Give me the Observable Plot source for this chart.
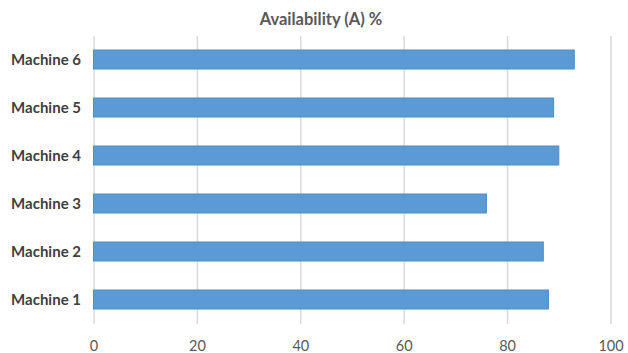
<!DOCTYPE html>
<html>
<head>
<meta charset="utf-8">
<script src="https://cdn.jsdelivr.net/npm/d3@7"></script>
<script src="https://cdn.jsdelivr.net/npm/@observablehq/plot@0.6"></script>
<style>
  html, body { margin: 0; padding: 0; background: #fff; }
  #chart { width: 628px; height: 353px; position: relative; font-family: Lato, "Open Sans", sans-serif; }
  #title { height: 30px; line-height: 38px; text-align: center; font-size: 16.5px; font-weight: bold; color: #595959; padding-left: 14px; box-sizing: border-box; }
  svg { display: block; }
</style>
</head>
<body>
<div id="chart">
  <div id="title">Availability (A) %</div>
</div>
<script>
// Availability per machine, in percent
const machines = ["Machine 1", "Machine 2", "Machine 3", "Machine 4", "Machine 5", "Machine 6"];
const availability = [88, 87, 76, 90, 89, 93];
const xTicks = [0, 20, 40, 60, 80, 100];

const rows = machines.map((m, i) => ({machine: m, value: availability[i]}));

const plot = Plot.plot({
  width: 628,
  height: 323,
  marginLeft: 93.5,
  marginRight: 17.5,
  marginTop: 6,
  marginBottom: 29,
  style: {fontFamily: "Lato, 'Open Sans', sans-serif", fontSize: "14px", background: "#fff"},
  x: {domain: [0, 100], ticks: xTicks, tickSize: 0, tickPadding: 16, label: null},
  y: {domain: machines.slice().reverse(), paddingInner: 0.6, paddingOuter: 0.3, tickSize: 0, tickPadding: 13, label: null},
  marks: [
    Plot.gridX(xTicks, {stroke: "#d9d9d9", strokeOpacity: 1, strokeWidth: 1.5}),
    Plot.barX(rows, {x: "value", y: "machine", fill: "#5b9bd5", stroke: "#4f8dc9", strokeWidth: 1}),
    Plot.axisX({ticks: xTicks, tickSize: 0, tickPadding: 16, color: "#595959", fontSize: 14.5}),
    Plot.axisY({tickSize: 0, tickPadding: 13, color: "#404040", fontWeight: "bold", fontSize: 15})
  ]
});
document.getElementById("chart").appendChild(plot);
</script>
</body>
</html>
